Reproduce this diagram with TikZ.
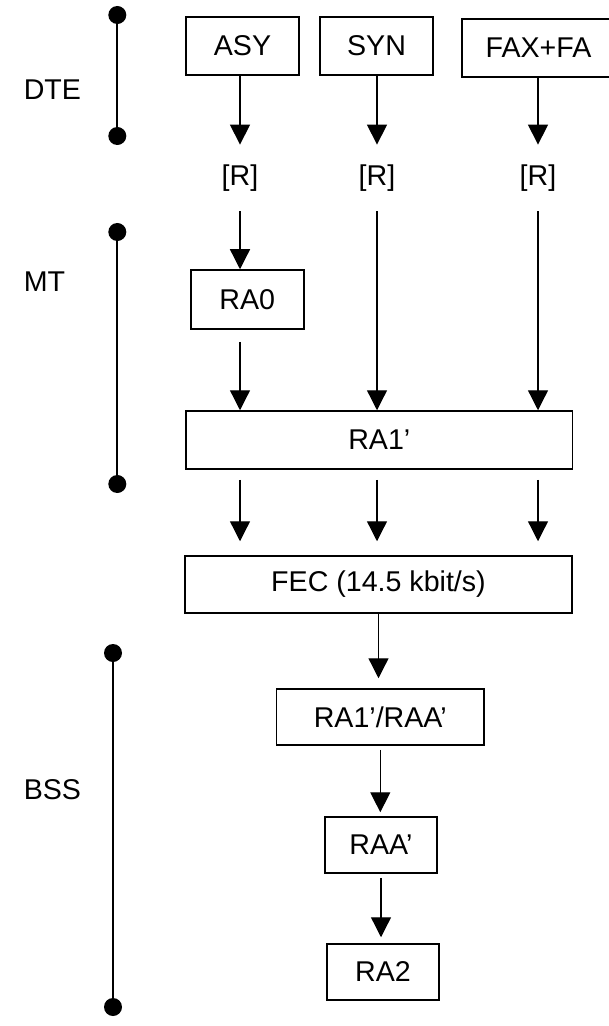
\documentclass[tikz,border=0pt]{standalone}
\usepackage{fontspec}
\setmainfont{Liberation Sans}
\usetikzlibrary{arrows.meta}

\begin{document}
\begin{tikzpicture}[
    x=0.5pt, y=-0.5pt,
    every node/.style={font=\fontsize{14.3pt}{17pt}\selectfont},
    box/.style={draw, line width=0.75pt, inner sep=0pt},
    rlab/.style={inner sep=0pt, minimum height=33pt},
    dot/.style={circle, fill, inner sep=0pt, minimum size=9pt},
    bar/.style={line width=0.85pt},
    arr/.style={-{Triangle[width=10pt,length=10pt]}, line width=0.65pt}
  ]
  \useasboundingbox (0,0) rectangle (609,1026);
  % left side: DTE, MT, BSS markers
  \node[dot] (dteA) at (117.3,15) {};
  \node[dot] (dteB) at (117.3,136) {};
  \draw[bar] (dteA.center) -- (dteB.center);
  \node[anchor=west] (dte) at (16.7,90) {DTE};
  \node[dot] (mtA) at (117.3,232) {};
  \node[dot] (mtB) at (117.3,484) {};
  \draw[bar] (mtA.center) -- (mtB.center);
  \node[anchor=west] (mt) at (16.7,282) {MT};
  \node[dot] (bssA) at (113,653) {};
  \node[dot] (bssB) at (113,1007) {};
  \draw[bar] (bssA.center) -- (bssB.center);
  \node[anchor=west] (bss) at (16.7,790) {BSS};
  % boxes
  \node[box, minimum width=56.5pt, minimum height=29pt] (asy) at (242.5,46) {ASY};
  \node[box, minimum width=56.5pt, minimum height=29pt] (syn) at (376.5,46) {SYN};
  \node[box, minimum width=76.5pt, minimum height=29pt] (fax) at (538.5,48) {FAX+FA};
  \node[rlab] (r1) at (240,178) {[R]};
  \node[rlab] (r2) at (377,178) {[R]};
  \node[rlab] (r3) at (538,178) {[R]};
  \node[box, minimum width=56.5pt, minimum height=29.5pt] (ra0) at (247.3,299.5) {RA0};
  \node[box, minimum width=193.3pt, minimum height=29pt] (ra1) at (379.3,440) {RA1’};
  \node[box, minimum width=193.5pt, minimum height=28.5pt] (fec) at (378.5,584.5) {FEC (14.5 kbit/s)};
  \node[box, minimum width=103.6pt, minimum height=28pt] (rar) at (380.3,717) {RA1’/RAA’};
  \node[box, minimum width=56pt, minimum height=28pt] (raa) at (381,845) {RAA’};
  \node[box, minimum width=56pt, minimum height=28pt] (ra2) at (383,972) {RA2};
  % arrows
  \draw[arr] (asy.south -| r1) -- (r1.north);
  \draw[arr] (syn.south -| r2) -- (r2.north);
  \draw[arr] (fax.south -| r3) -- (r3.north);
  \draw[arr] (r1.south) -- (r1 |- ra0.north);
  \draw[arr, shorten <=6pt] (ra0.south -| r1) -- (r1 |- ra1.north);
  \draw[arr] (r2.south) -- (r2 |- ra1.north);
  \draw[arr] (r3.south) -- (r3 |- ra1.north);
  \foreach \c in {r1,r2,r3}
    \draw[arr, shorten <=5pt, shorten >=7pt] (ra1.south -| \c) -- (\c |- fec.north);
  \draw[arr, shorten >=5pt] (fec.south) -- (fec.south |- rar.north);
  \draw[arr, shorten <=2pt, shorten >=2pt] (rar.south) -- (rar.south |- raa.north);
  \draw[arr, shorten <=2pt, shorten >=3pt] (raa.south) -- (raa.south |- ra2.north);
\end{tikzpicture}
\end{document}
